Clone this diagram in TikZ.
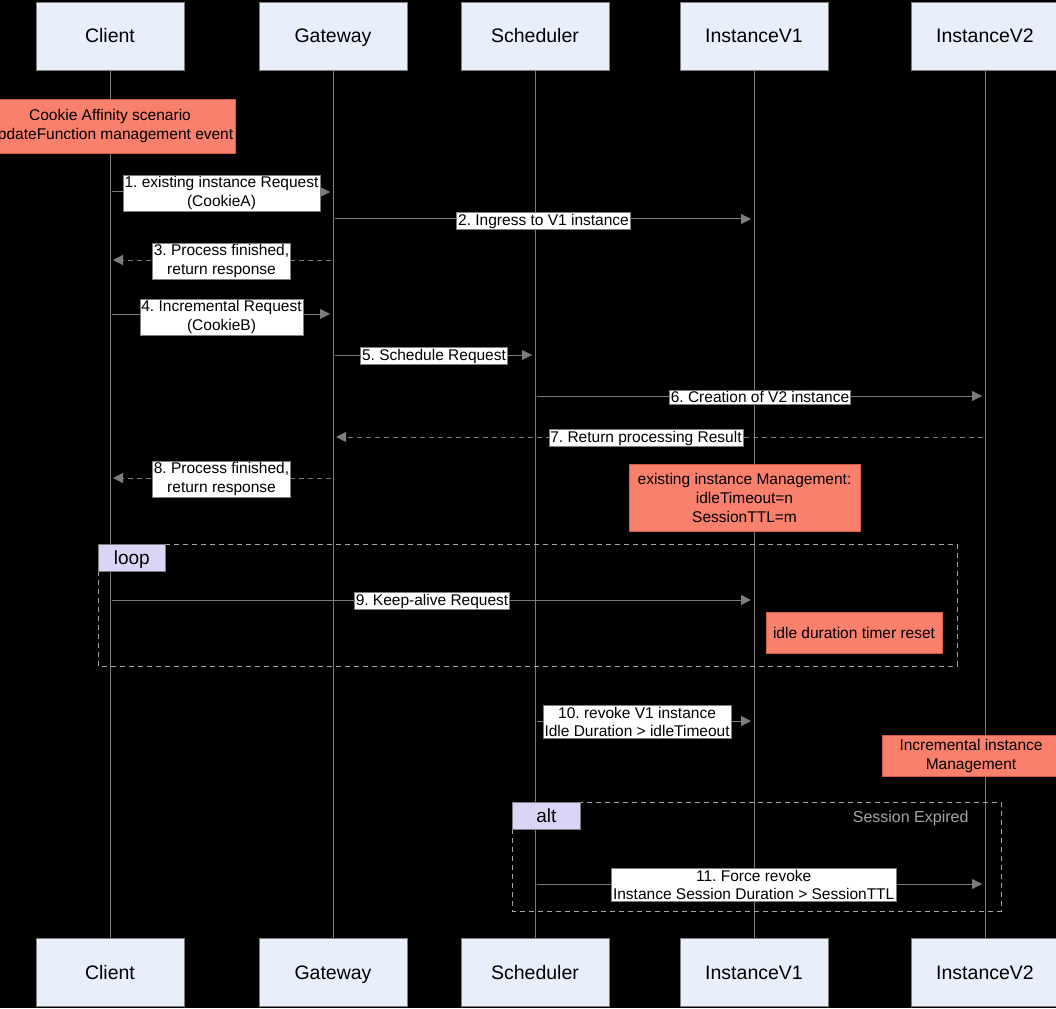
\documentclass[tikz,border=0pt]{standalone}
\usepackage{fontspec}
\setmainfont{Liberation Sans}
\usetikzlibrary{arrows.meta,positioning}
\definecolor{actorfill}{RGB}{232,238,250}
\definecolor{notesalmon}{RGB}{249,128,108}
\definecolor{noteedge}{RGB}{214,92,72}
\definecolor{tagfill}{RGB}{218,212,246}
\definecolor{linegray}{RGB}{125,125,125}
\definecolor{framegray}{RGB}{165,165,165}
\frenchspacing

\begin{document}
\begin{tikzpicture}[x=1pt,y=-1pt,
    actor/.style={draw=linegray,fill=actorfill,minimum width=148pt,minimum height=68pt,inner sep=0pt,text height=14pt,text depth=0pt,font=\fontsize{19.5}{22}\selectfont},
    life/.style={draw=linegray,line width=0.8pt},
    msg/.style={draw=linegray,line width=1pt,-{Triangle[length=10pt,width=10pt]},shorten <=2pt,shorten >=3pt},
    reply/.style={msg,dash pattern=on 5pt off 4pt},
    lbl/.style={solid,fill=white,draw=linegray,line width=0.6pt,inner sep=1.5pt,align=center,font=\fontsize{15.5}{18.5}\selectfont},
    note/.style={fill=notesalmon,draw=noteedge,line width=0.8pt,align=center,inner sep=2pt,font=\fontsize{15.5}{19}\selectfont},
    frame/.style={draw=framegray,line width=0.9pt,dash pattern=on 5pt off 4pt},
    tag/.style={fill=tagfill,draw=linegray,line width=0.6pt,anchor=north west,minimum height=27pt,inner sep=0pt,text height=13pt,text depth=0pt,font=\fontsize{19}{22}\selectfont}]
        \useasboundingbox (0,0) rectangle (1056,1008);
        \fill[black] (0,0) rectangle (1056,1008);
        \node[actor] (client) at (110,36) {Client};
        \node[actor] (gateway) at (333,36) {Gateway};
        \node[actor] (sched) at (535,36) {Scheduler};
        \node[actor] (instV1) at (754,36) {InstanceV1};
        \node[actor] (instV2) at (985,36) {InstanceV2};
        \node[actor] (clientB) at (110,972) {Client};
        \node[actor] (gatewayB) at (333,972) {Gateway};
        \node[actor] (schedB) at (535,972) {Scheduler};
        \node[actor] (instV1B) at (754,972) {InstanceV1};
        \node[actor] (instV2B) at (985,972) {InstanceV2};
        \foreach \a in {client,gateway,sched,instV1,instV2}
          \draw[life] (\a) -- (\a B);
        \draw[frame] (98,544) rectangle (957,666);
        \node[tag,minimum width=67pt] (looptag) at (98,544) {loop};
        \draw[frame] (512,802) rectangle (1001,911);
        \node[tag,minimum width=68pt] (alttag) at (512,802) {alt};
        \node[anchor=east,text=framegray,font=\fontsize{16}{19}\selectfont] (expired) at (972,818) {Session Expired};
        \node[note,minimum width=248pt,minimum height=54pt] (affinity) at (110,126) {Cookie Affinity scenario\\UpdateFunction management event};
        \node[note,minimum width=231pt,minimum height=67pt] (mgmtV1) at (744.5,498) {existing instance Management:\\idleTimeout=n\\SessionTTL=m};
        \node[note,minimum width=176pt,minimum height=41pt] (reset) at (854,633) {idle duration timer reset};
        \node[note,minimum width=178pt,minimum height=41pt] (mgmtV2) at (971,756) {Incremental instance\\Management};
        \draw[msg] (client |- 0,192) -- (gateway |- 0,192) node[lbl,midway,yshift=-1pt] (m1) {1. existing instance Request\\(CookieA)};
        \draw[msg] (gateway |- 0,219) -- (instV1 |- 0,219) node[lbl,midway,yshift=-2pt] (m2) {2. Ingress to V1 instance};
        \draw[reply] (gateway |- 0,260) -- (client |- 0,260) node[lbl,midway,yshift=-1pt] (m3) {3. Process finished,\\return response};
        \draw[msg] (client |- 0,314) -- (gateway |- 0,314) node[lbl,midway,yshift=-3pt] (m4) {4. Incremental Request\\(CookieB)};
        \draw[msg] (gateway |- 0,355) -- (sched |- 0,355) node[lbl,midway,yshift=-1pt] (m5) {5. Schedule Request};
        \draw[msg] (sched |- 0,396) -- (instV2 |- 0,396) node[lbl,midway,yshift=-1pt] (m6) {6. Creation of V2 instance};
        \draw[reply] (instV2 |- 0,437) -- (gateway |- 0,437) node[lbl,pos=0.52,yshift=-1pt] (m7) {7. Return processing Result};
        \draw[reply] (gateway |- 0,478) -- (client |- 0,478) node[lbl,midway,yshift=-1pt] (m8) {8. Process finished,\\return response};
        \draw[msg] (client |- 0,600) -- (instV1 |- 0,600) node[lbl,midway,yshift=-1pt] (m9) {9. Keep-alive Request};
        \draw[msg] (sched |- 0,721) -- (instV1 |- 0,721) node[lbl,pos=0.466,yshift=-1pt] (m10) {10. revoke V1 instance\\Idle Duration > idleTimeout};
        \draw[msg] (sched |- 0,884) -- (instV2 |- 0,884) node[lbl,pos=0.486,yshift=-1pt] (m11) {11. Force revoke\\Instance Session Duration > SessionTTL};
      \end{tikzpicture}
\end{document}
